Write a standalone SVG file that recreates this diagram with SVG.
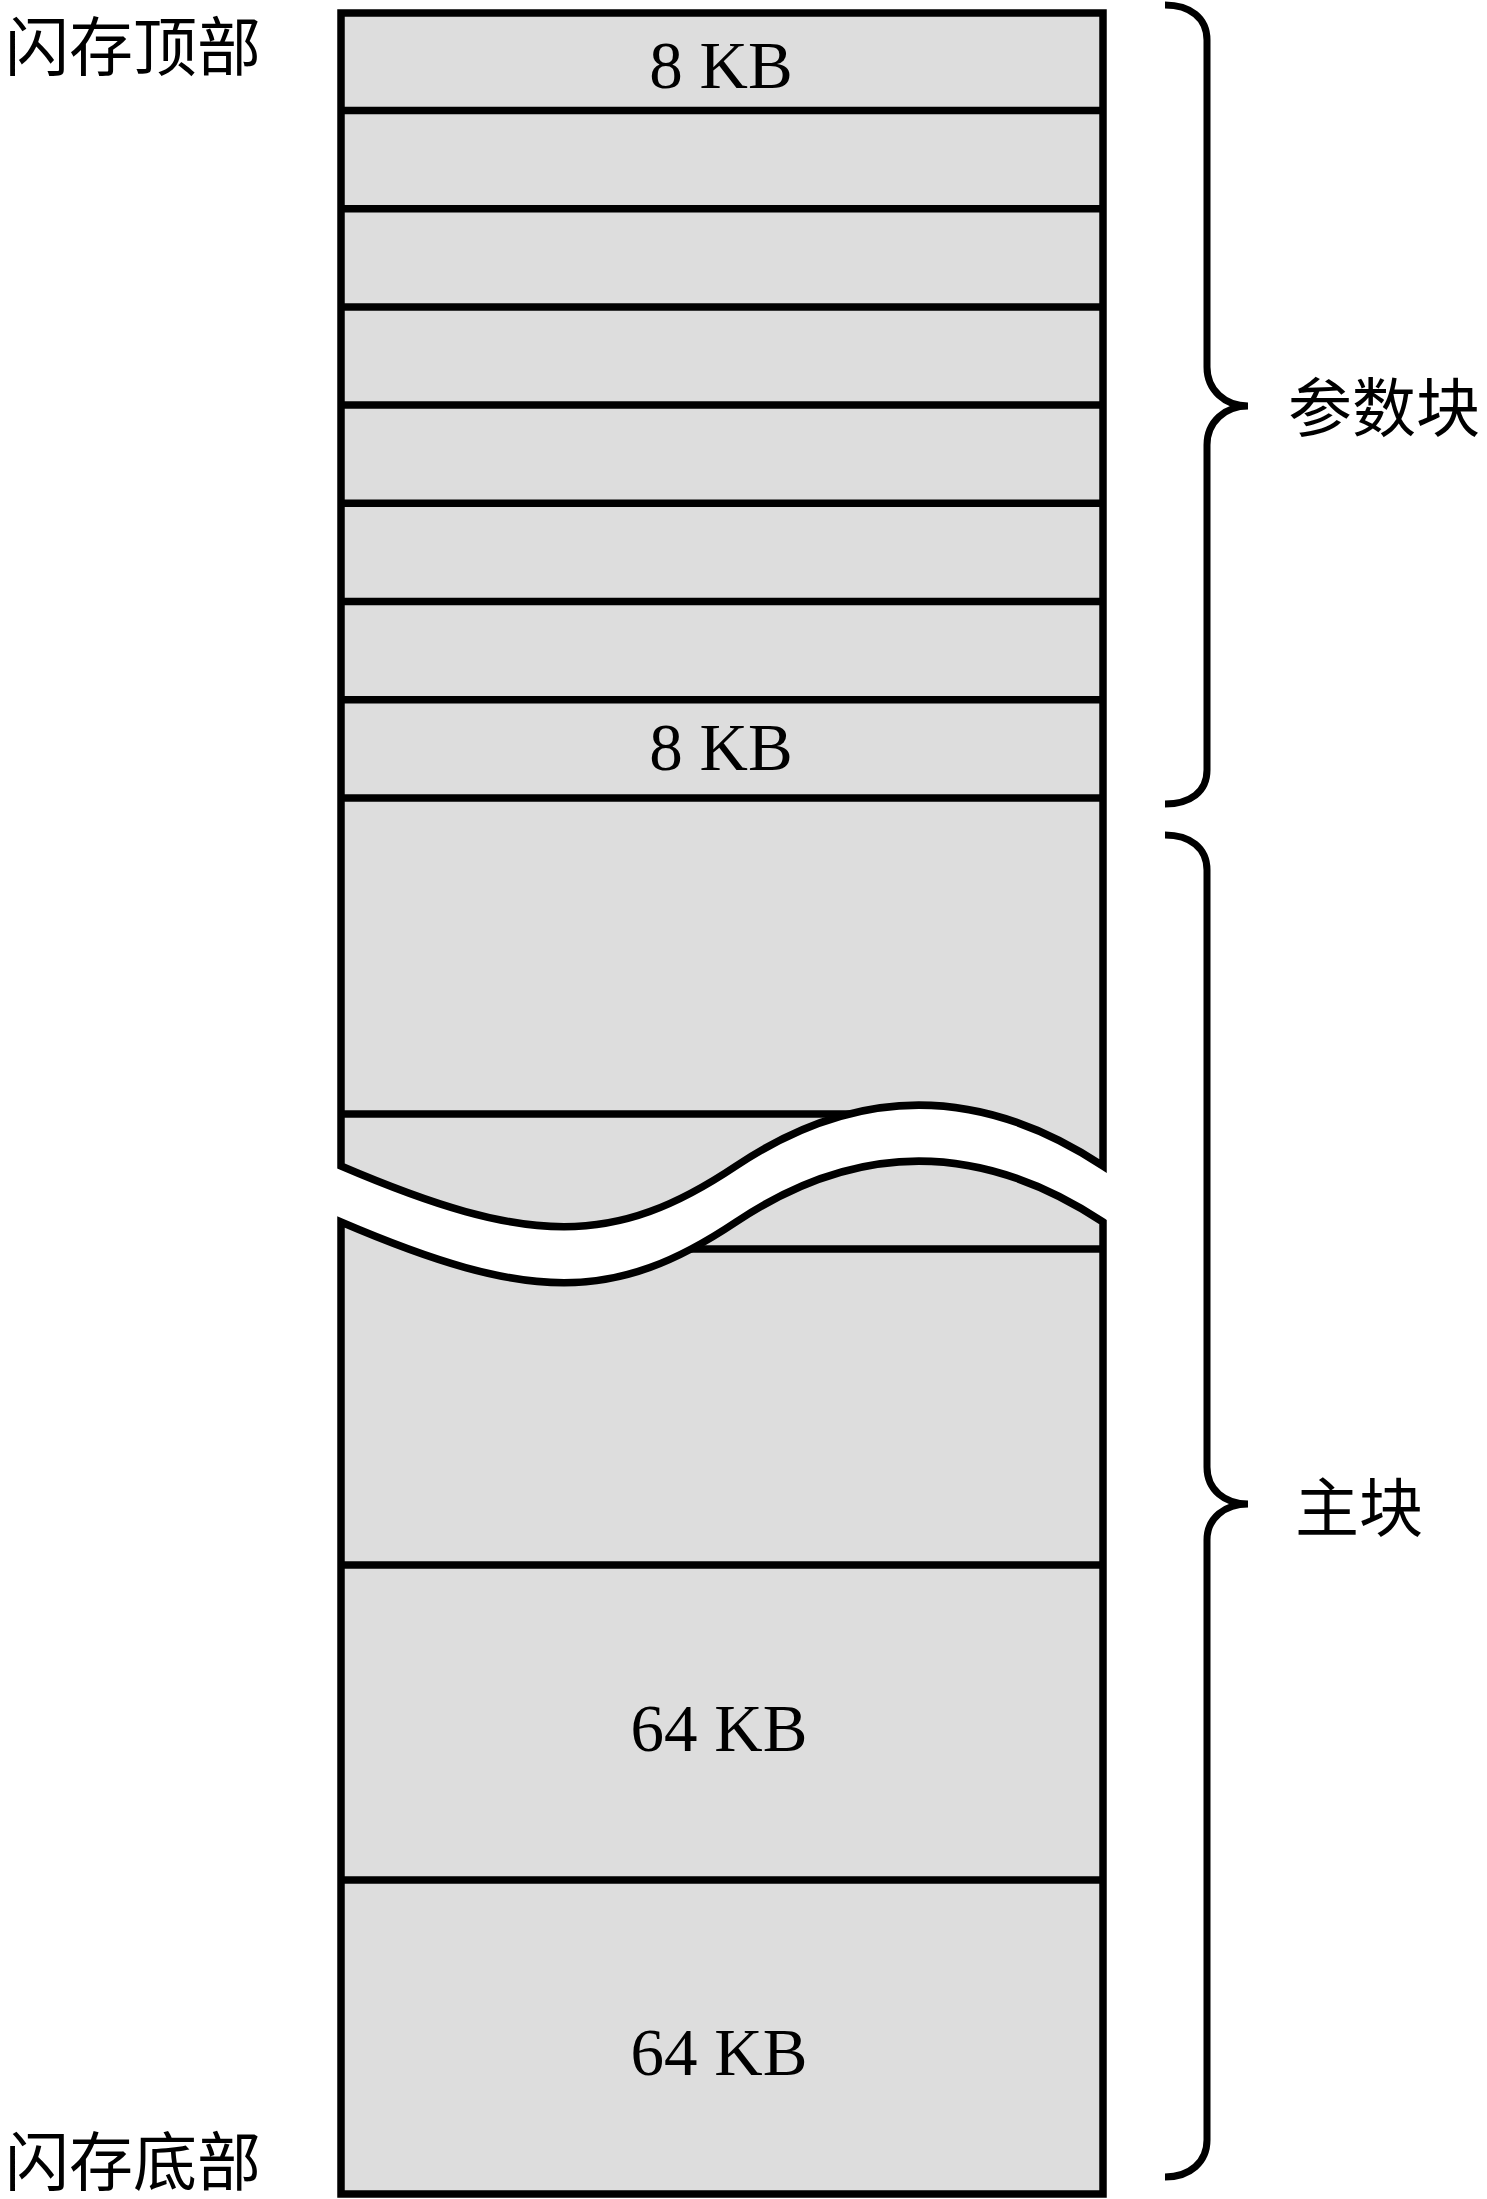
<svg xmlns="http://www.w3.org/2000/svg" xmlns:xlink="http://www.w3.org/1999/xlink" width="1487" height="2199" viewBox="0 0 1487 2199">
  <style>
    .fill { fill: #dddddd; stroke: none; }
    .outline { fill: none; stroke: #000; stroke-width: 7.5; stroke-linejoin: miter; }
    .div { stroke: #000; stroke-width: 7.5; }
    .brace { fill: none; stroke: #000; stroke-width: 7; stroke-linecap: butt; }
    .kb { font-family: "Liberation Serif", "Times New Roman", serif; font-size: 67px; fill: #000; text-anchor: middle; }
    .cjk { font-family: "Liberation Serif", "Noto Sans CJK SC", serif; font-size: 64px; fill: #000; }
  </style>
  <defs>
    <path id="upperShape" d="M341,1166 L341,13 L1103,13 L1103,1166 C980,1085 857,1085 736,1166 C615,1247 530,1247 341,1166 Z"/>
    <path id="lowerShape" d="M341,1222 C530,1303 615,1303 736,1222 C857,1141 980,1141 1103,1222 L1103,2194 L341,2194 Z"/>
    <clipPath id="bodyClip">
      <use xlink:href="#upperShape"/>
      <use xlink:href="#lowerShape"/>
    </clipPath>
  </defs>

  <g id="flash-body">
    <use xlink:href="#upperShape" class="fill"/>
    <use xlink:href="#lowerShape" class="fill"/>
    <g id="dividers" clip-path="url(#bodyClip)">
      <line class="div" x1="338" y1="110.5" x2="1106" y2="110.5"/>
      <line class="div" x1="338" y1="208.7" x2="1106" y2="208.7"/>
      <line class="div" x1="338" y1="306.9" x2="1106" y2="306.9"/>
      <line class="div" x1="338" y1="405.1" x2="1106" y2="405.1"/>
      <line class="div" x1="338" y1="503.3" x2="1106" y2="503.3"/>
      <line class="div" x1="338" y1="601.5" x2="1106" y2="601.5"/>
      <line class="div" x1="338" y1="699.7" x2="1106" y2="699.7"/>
      <line class="div" x1="338" y1="797.9" x2="1106" y2="797.9"/>
      <line class="div" x1="338" y1="1114" x2="900" y2="1114"/>
      <line class="div" x1="600" y1="1249" x2="1106" y2="1249"/>
      <line class="div" x1="338" y1="1565" x2="1106" y2="1565"/>
      <line class="div" x1="338" y1="1880" x2="1106" y2="1880"/>
    </g>
    <use xlink:href="#upperShape" class="outline"/>
    <use xlink:href="#lowerShape" class="outline"/>
  </g>

  <g id="block-top-8kb"><text class="kb" x="721" y="88">8 KB</text></g>
  <g id="block-last-8kb"><text class="kb" x="721" y="770">8 KB</text></g>
  <g id="block-64kb-1"><text class="kb" x="719" y="1751">64 KB</text></g>
  <g id="block-64kb-2"><text class="kb" x="719" y="2075">64 KB</text></g>

  <g id="label-top"><text class="cjk" x="5" y="70">闪存顶部</text></g>
  <g id="label-bottom"><text class="cjk" x="5" y="2185">闪存底部</text></g>

  <g id="brace-param">
    <path class="brace" d="M1165,5 C1190,5 1207,18 1207,40 L1207,367 C1207,390 1225,406 1248,406 C1225,406 1207,422 1207,445 L1207,770 C1207,792 1190,804 1165,804"/>
    <text class="cjk" x="1288" y="431">参数块</text>
  </g>
  <g id="brace-main">
    <path class="brace" d="M1165,835 C1190,835 1207,848 1207,870 L1207,1467 C1207,1490 1225,1504 1248,1504 C1225,1504 1207,1518 1207,1540 L1207,2140 C1207,2162 1190,2177 1165,2177"/>
    <text class="cjk" x="1295" y="1531">主块</text>
  </g>
</svg>
